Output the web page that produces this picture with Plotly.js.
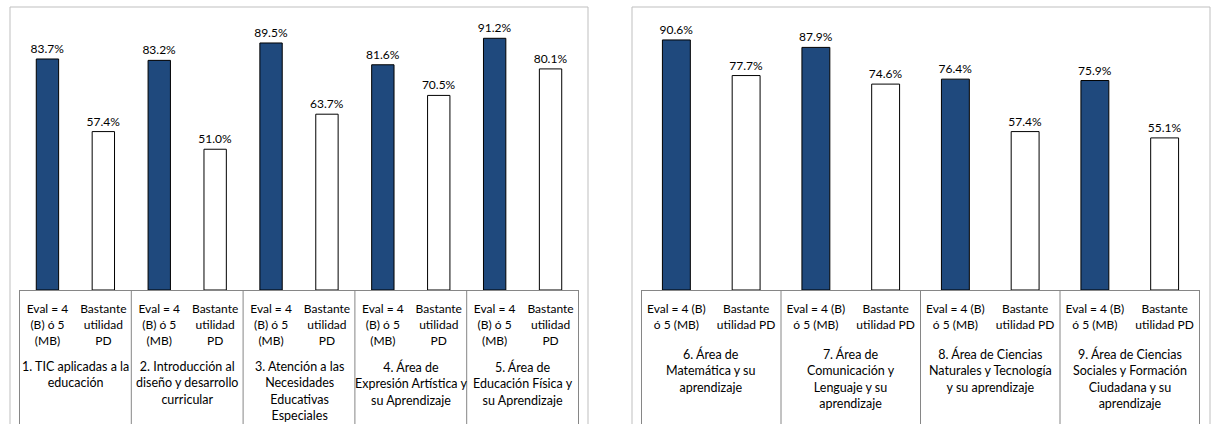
<!DOCTYPE html>
<html>
<head>
<meta charset="utf-8">
<script src="https://cdn.plot.ly/plotly-3.0.1.min.js"></script>
<style>
html,body{margin:0;padding:0;background:#fff;}
#chart{width:1212px;height:424px;}
</style>
</head>
<body>
<div id="chart"></div>
<script>
// ---- data ----
const leftGroups = [
  "1. TIC aplicadas a la<br>educación",
  "2. Introducción al<br>diseño y desarrollo<br>curricular",
  "3. Atención a las<br>Necesidades<br>Educativas<br>Especiales",
  "4. Área de<br>Expresión Artística y<br>su Aprendizaje",
  "5. Área de<br>Educación Física y<br>su Aprendizaje"
];
const leftSubs = ["Eval = 4<br>(B) ó 5<br>(MB)", "Bastante<br>utilidad<br>PD"];
const leftEval = [0.837, 0.832, 0.895, 0.816, 0.912];
const leftBastante = [0.574, 0.510, 0.637, 0.705, 0.801];

const rightGroups = [
  "6. Área de<br>Matemática y su<br>aprendizaje",
  "7. Área de<br>Comunicación y<br>Lenguaje y su<br>aprendizaje",
  "8. Área de Ciencias<br>Naturales y Tecnología<br>y su aprendizaje",
  "9. Área de Ciencias<br>Sociales y Formación<br>Ciudadana y su<br>aprendizaje"
];
const rightSubs = ["Eval = 4 (B)<br>ó 5 (MB)", "Bastante<br>utilidad PD"];
const rightEval = [0.906, 0.879, 0.764, 0.759];
const rightBastante = [0.777, 0.746, 0.574, 0.551];

// ---- styles ----
const W = 1212, H = 424;
const FONT = "Lato, 'Open Sans', sans-serif";
const BLUE = "#1F497D";
const AXIS_GREY = "#868686";
const BORDER_GREY = "#BFBFBF";

function px(x){ return x / W; }
function py(y){ return 1 - y / H; }

// category ids (one slot per sub-category, interleaved per group)
function catIds(prefix, groups){
  const out = [];
  groups.forEach((g, i) => { out.push(prefix + i + "E"); out.push(prefix + i + "B"); });
  return out;
}
const leftCats = catIds("L", leftGroups);
const rightCats = catIds("R", rightGroups);

function barTrace(cats, which, vals, color, xa, ya){
  return {
    type: "bar",
    x: vals.map((v, i) => cats[2 * i + which]),
    y: vals,
    xaxis: xa, yaxis: ya,
    marker: {color: color, line: {color: "#000000", width: 1}},
    texttemplate: "%{y:.1%}",
    textposition: "outside",
    constraintext: "none",
    textfont: {family: FONT, size: 12, color: "#000"},
    outsidetextfont: {family: FONT, size: 12, color: "#000"},
    cliponaxis: false,
    hoverinfo: "skip",
    showlegend: false
  };
}

const data = [
  barTrace(leftCats, 0, leftEval, BLUE, "x", "y"),
  barTrace(leftCats, 1, leftBastante, "#FFFFFF", "x", "y"),
  barTrace(rightCats, 0, rightEval, BLUE, "x2", "y2"),
  barTrace(rightCats, 1, rightBastante, "#FFFFFF", "x2", "y2")
];

function xaxisCfg(domain, anchor, cats, subs){
  return {
    type: "category",
    categoryorder: "array",
    categoryarray: cats,
    tickmode: "array",
    tickvals: cats,
    ticktext: cats.map((c, i) => subs[i % 2]),
    domain: domain,
    anchor: anchor,
    showline: true,
    linecolor: AXIS_GREY,
    linewidth: 1,
    showgrid: false,
    zeroline: false,
    ticks: "",
    ticklabelstandoff: 8,
    tickfont: {family: FONT, size: 12, color: "#000"},
    fixedrange: true
  };
}
function yaxisCfg(anchor){
  return {
    domain: [py(290), py(14)],
    range: [0, 1],
    anchor: anchor,
    visible: false,
    showgrid: false,
    zeroline: false,
    fixedrange: true
  };
}

const shapes = [
  {type: "rect", xref: "paper", yref: "paper", x0: px(10), x1: px(588), y0: -0.05, y1: py(7),
   line: {color: BORDER_GREY, width: 1}, fillcolor: "rgba(0,0,0,0)", layer: "below"},
  {type: "rect", xref: "paper", yref: "paper", x0: px(632), x1: px(1210), y0: -0.05, y1: py(7),
   line: {color: BORDER_GREY, width: 1}, fillcolor: "rgba(0,0,0,0)", layer: "below"}
];
function addDividers(groups, xref){
  for (let i = 0; i <= groups.length; i++) {
    shapes.push({type: "line", xref: xref, yref: "paper", x0: 2 * i - 0.5, x1: 2 * i - 0.5,
      y0: py(290), y1: -0.05, line: {color: AXIS_GREY, width: 1}});
  }
}
addDividers(leftGroups, "x");
addDividers(rightGroups, "x2");

const annotations = [];
function addGroupLabels(groups, xref, topY){
  groups.forEach((g, i) => {
    annotations.push({
      text: g, xref: xref, yref: "paper", x: 2 * i + 0.5, y: py(topY),
      xanchor: "center", yanchor: "top", showarrow: false, align: "center",
      font: {family: FONT, size: 12.5, color: "#000"}
    });
  });
}
addGroupLabels(leftGroups, "x", 356.5);
addGroupLabels(rightGroups, "x2", 343.5);

const layout = {
  width: W, height: H,
  margin: {l: 0, r: 0, t: 0, b: 0},
  paper_bgcolor: "#fff",
  plot_bgcolor: "rgba(0,0,0,0)",
  barmode: "overlay",
  bargap: 0.6,
  font: {family: FONT, size: 12, color: "#000"},
  xaxis: xaxisCfg([px(19), px(579)], "y", leftCats, leftSubs),
  yaxis: yaxisCfg("x"),
  xaxis2: xaxisCfg([px(641), px(1200)], "y2", rightCats, rightSubs),
  yaxis2: yaxisCfg("x2"),
  shapes: shapes,
  annotations: annotations
};

Plotly.newPlot("chart", data, layout, {displayModeBar: false, staticPlot: true});
</script>
</body>
</html>
